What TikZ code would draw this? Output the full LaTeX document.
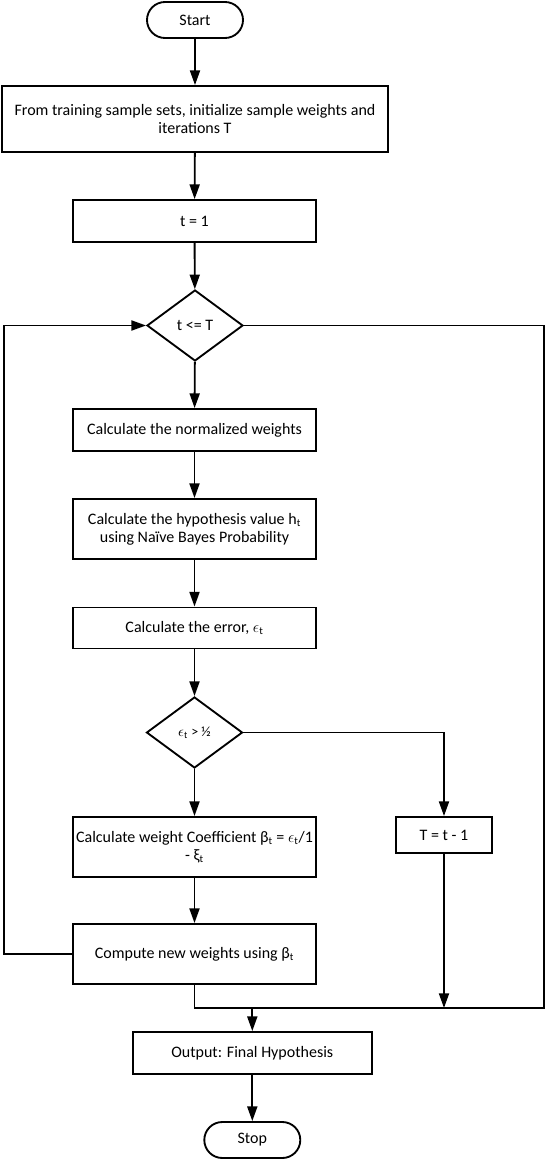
\documentclass[tikz,border=0pt]{standalone}
\usepackage{fontspec}
\setmainfont{Carlito}
\usepackage{tikz}
\usetikzlibrary{arrows.meta,shapes.geometric}

\begin{document}
\begin{tikzpicture}[x=0.75pt,y=0.75pt,yscale=-1,xscale=1,
  font=\fontsize{12}{13.75}\selectfont,
  every node/.style={inner sep=0.75pt,align=center},
  box/.style={draw,line width=1.4pt,minimum width=182.25pt,minimum height=31.5pt},
  term/.style={draw,line width=1.4pt,rounded corners=13.5pt,minimum width=72pt,minimum height=27pt},
  cond/.style={draw,line width=1.4pt,diamond,aspect=1.35,inner sep=0pt,minimum width=72pt,minimum height=53.25pt},
  arr/.style={line width=1.4pt,-{Triangle[length=11pt,width=7.5pt]}},
  con/.style={line width=1.4pt}]
\useasboundingbox (0,0) rectangle (546,1160);

% Text Node
\node [term] (start) at (195,20) {Start};
% Text Node
\node [box,minimum width=289.5pt,minimum height=49.5pt] (init) at (195,119) {From training sample sets, initialize sample weights and\\iterations T};
% Text Node
\node [box] (tone) at (194.5,221) {t = 1};
% Text Node
\node [cond] (loop) at (195,325.5) {t <= T};
% Text Node
\node [box] (norm) at (194.5,430) {Calculate the normalized weights};
% Text Node
\node [box,minimum height=45pt] (hyp) at (194.5,529) {Calculate the hypothesis value h\textsubscript{t}\\using Naïve Bayes Probability};
% Text Node
\node [box,minimum height=30.75pt] (err) at (194.5,628) {Calculate the error, $\epsilon$\textsubscript{t}};
% Text Node
\node [cond,font=\fontsize{10.5}{12}\selectfont] (half) at (194.5,732.5) {$\epsilon$\textsubscript{t} > ½};
% Text Node
\node [box,minimum height=45pt] (coef) at (194.5,847) {Calculate weight Coefficient β\textsubscript{t} = $\epsilon$\textsubscript{t}/1\\- ξ\textsubscript{t}};
% Text Node
\node [box,minimum width=72pt,minimum height=27pt] (dec) at (444,835) {T = t - 1};
% Text Node
\node [box,minimum height=45pt] (upd) at (194.5,954) {Compute new weights using β\textsubscript{t}};
% Text Node
\node [box,minimum width=179.25pt] (out) at (252.3,1053) {Output: Final Hypothesis};
% Text Node
\node [term] (stop) at (252.3,1140) {Stop};

\coordinate (lft) at (4,325.5);
\coordinate (rgt) at (544,1008);
\coordinate (mrg) at (252.3,1008);

%Straight Lines
\draw [arr] (start) -- (init);
\draw [arr] (init) -- (tone);
\draw [arr] (tone) -- (loop);
\draw [arr] (loop) -- (norm);
\draw [arr] (norm) -- (hyp);
\draw [arr] (hyp) -- (err);
\draw [arr] (err) -- (half);
\draw [arr] (half) -- (coef);
\draw [arr] (coef) -- (upd);
\draw [arr] (half.east) -| (dec.north);
\draw [arr] (upd.west) -| (lft) -- (loop.west);
\draw [con] (upd.south) |- (rgt) |- (loop.east);
\draw [arr] (dec.south) -- (dec.south |- rgt);
\draw [arr] (mrg) -- (out);
\draw [arr] (out) -- (stop);

\end{tikzpicture}
\end{document}
